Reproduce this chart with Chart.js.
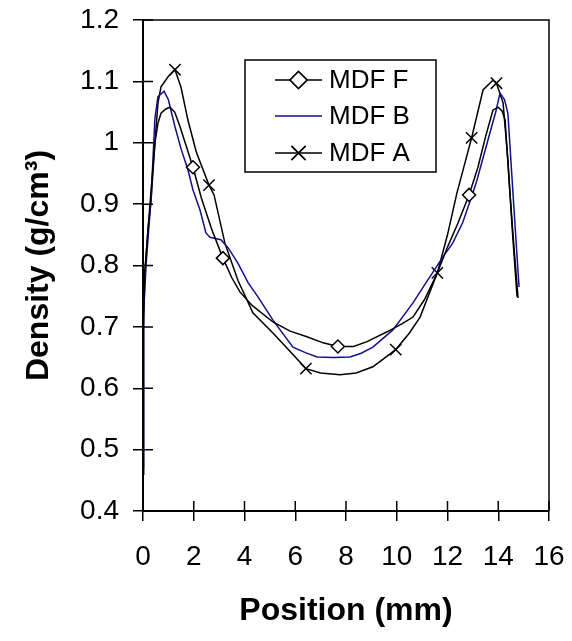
<!DOCTYPE html>
<html><head><meta charset="utf-8">
<script src="https://cdn.jsdelivr.net/npm/chart.js@4/dist/chart.umd.min.js"></script>
<style>html,body{margin:0;padding:0;background:#fff;}#wrap{width:572px;height:641px;}</style>
</head><body><div id="wrap"><canvas id="c" width="572" height="641"></canvas></div>
<script>
const seriesNames = ['MDF F', 'MDF B', 'MDF A'];

const mdfF_x = [0, 0.02, 0.07, 0.2, 0.32, 0.47, 0.59, 0.71, 0.9, 1.06, 1.25, 1.46, 1.7, 1.97, 2.3, 2.7, 3.15, 3.5, 3.82, 4.3, 5.12, 5.8, 6.46, 7.1, 7.68, 8.3, 8.83, 9.62, 10.2, 10.64, 11.1, 11.6, 12.0, 12.4, 12.85, 13.2, 13.5, 13.79, 13.99, 14.15, 14.27, 14.46, 14.62, 14.78];
const mdfF_y = [0.46, 0.72, 0.788, 0.86, 0.923, 1.0, 1.032, 1.048, 1.055, 1.058, 1.05, 1.026, 0.995, 0.96, 0.91, 0.86, 0.812, 0.78, 0.757, 0.735, 0.708, 0.693, 0.684, 0.674, 0.668, 0.668, 0.676, 0.692, 0.705, 0.716, 0.745, 0.788, 0.83, 0.868, 0.915, 0.96, 1.01, 1.053, 1.058, 1.052, 1.037, 0.918, 0.83, 0.747];
const mdfF_markX = [1.97, 3.15, 7.68, 12.85];

const mdfB_x = [0, 0.02, 0.12, 0.2, 0.32, 0.4, 0.47, 0.59, 0.83, 1.0, 1.26, 1.5, 1.77, 1.97, 2.25, 2.48, 2.64, 3.07, 3.35, 3.74, 4.14, 4.53, 5.12, 5.91, 6.4, 6.86, 7.5, 8.16, 8.6, 9.06, 9.85, 10.64, 11.2, 11.82, 12.2, 12.6, 13.0, 13.16, 13.67, 13.9, 14.07, 14.25, 14.38, 14.58, 14.82];
const mdfB_y = [0.47, 0.72, 0.80, 0.845, 0.91, 0.98, 1.04, 1.075, 1.084, 1.07, 1.026, 0.99, 0.956, 0.923, 0.89, 0.853, 0.846, 0.842, 0.829, 0.804, 0.772, 0.749, 0.711, 0.667, 0.658, 0.651, 0.650, 0.651, 0.657, 0.667, 0.695, 0.739, 0.775, 0.814, 0.836, 0.87, 0.918, 0.939, 1.016, 1.05, 1.081, 1.07, 1.048, 0.918, 0.765];

const mdfA_x = [0, 0.02, 0.07, 0.2, 0.32, 0.47, 0.59, 0.71, 0.98, 1.26, 1.5, 1.77, 2.1, 2.6, 2.8, 3.23, 3.74, 4.33, 5.12, 5.8, 6.42, 7.0, 7.76, 8.4, 9.06, 9.96, 10.5, 10.92, 11.6, 12.0, 12.37, 12.95, 13.4, 13.79, 13.93, 14.19, 14.38, 14.55, 14.74];
const mdfA_y = [0.46, 0.70, 0.785, 0.86, 0.907, 1.0, 1.065, 1.091, 1.107, 1.119, 1.09, 1.037, 0.985, 0.931, 0.915, 0.836, 0.776, 0.723, 0.69, 0.66, 0.632, 0.625, 0.622, 0.625, 0.635, 0.663, 0.69, 0.716, 0.788, 0.85, 0.918, 1.008, 1.086, 1.102, 1.097, 1.065, 0.972, 0.86, 0.749];
const mdfA_markX = [1.26, 2.6, 6.42, 9.96, 11.6, 12.95, 13.93];

const xTickValues = [0, 2, 4, 6, 8, 10, 12, 14, 16];
const yTickLabels = ['0.4', '0.5', '0.6', '0.7', '0.8', '0.9', '1', '1.1', '1.2'];

const FONT = "'Liberation Sans', Arial, sans-serif";

function pts(xs, ys) { return xs.map((x, i) => ({ x: x, y: ys[i] })); }
function markRadius(marks, r) {
  return ctx => (ctx.raw && marks.includes(ctx.raw.x)) ? r : 0;
}

const datasets = [
  { label: seriesNames[0], data: pts(mdfF_x, mdfF_y), borderColor: '#000', borderWidth: 1.5,
    pointStyle: 'rectRot', pointRadius: markRadius(mdfF_markX, 6.5), pointBorderColor: '#000',
    pointBackgroundColor: '#fff', pointBorderWidth: 1.5, legendRadius: 8.5 },
  { label: seriesNames[1], data: pts(mdfB_x, mdfB_y), borderColor: '#10108f', borderWidth: 1.5,
    pointRadius: 0, pointStyle: false, legendRadius: 0 },
  { label: seriesNames[2], data: pts(mdfA_x, mdfA_y), borderColor: '#000', borderWidth: 1.5,
    pointStyle: 'crossRot', pointRadius: markRadius(mdfA_markX, 8), pointBorderColor: '#000',
    pointBorderWidth: 1.5, legendRadius: 10 }
];

const framePlugin = {
  id: 'frame',
  afterDraw(chart) {
    const { ctx, chartArea: a, scales } = chart;
    ctx.save();
    ctx.strokeStyle = '#000';
    ctx.lineWidth = 1.5;
    ctx.beginPath();
    ctx.moveTo(a.left, a.top); ctx.lineTo(a.right, a.top); ctx.lineTo(a.right, a.bottom);
    ctx.stroke();
    ctx.beginPath();
    scales.x.ticks.forEach(t => {
      const px = scales.x.getPixelForValue(t.value);
      ctx.moveTo(px, a.bottom); ctx.lineTo(px, a.bottom - 10);
    });
    scales.y.ticks.forEach(t => {
      const py = scales.y.getPixelForValue(t.value);
      ctx.moveTo(a.left, py); ctx.lineTo(a.left + 10, py);
    });
    ctx.stroke();
    ctx.restore();
  },
  afterDatasetsDraw(chart) {
    const { ctx } = chart;
    const bx = 245, by = 60, bw = 191, bh = 112;
    ctx.save();
    ctx.fillStyle = '#fff';
    ctx.fillRect(bx, by, bw, bh);
    ctx.strokeStyle = '#000';
    ctx.lineWidth = 1.5;
    ctx.strokeRect(bx, by, bw, bh);
    const rows = [80, 116, 153];
    chart.data.datasets.forEach((ds, i) => {
      const y = rows[i];
      ctx.strokeStyle = ds.borderColor;
      ctx.lineWidth = 1.5;
      ctx.beginPath(); ctx.moveTo(275, y); ctx.lineTo(322, y); ctx.stroke();
      if (ds.legendRadius) {
        Chart.helpers.drawPoint(ctx, {
          pointStyle: ds.pointStyle, radius: ds.legendRadius, rotation: 0,
          borderWidth: 1.5
        }, 298.5, y);
        ctx.fillStyle = ds.pointBackgroundColor || '#fff';
        ctx.strokeStyle = '#000';
        ctx.lineWidth = 1.5;
        if (ds.pointStyle === 'rectRot') { ctx.fill(); }
        ctx.stroke();
      }
      ctx.fillStyle = '#000';
      ctx.font = '26px ' + FONT;
      ctx.textBaseline = 'middle';
      ctx.textAlign = 'left';
      ctx.fillText(ds.label, 329, y + 1);
    });
    ctx.restore();
  }
};

new Chart(document.getElementById('c'), {
  type: 'scatter',
  data: { datasets: datasets.map(d => Object.assign({ showLine: true, tension: 0, fill: false }, d)) },
  options: {
    responsive: false,
    animation: false,
    layout: { padding: { top: 20, right: 23, left: 0, bottom: 0 } },
    plugins: { legend: { display: false }, tooltip: { enabled: false } },
    scales: {
      x: {
        type: 'linear', min: 0, max: 16,
        afterFit: s => { s.height = 130; s.paddingLeft = 0; s.paddingRight = 0; },
        afterBuildTicks: s => { s.ticks = xTickValues.map(v => ({ value: v })); },
        ticks: { font: { family: FONT, size: 28 }, color: '#000', padding: 19, maxRotation: 0 },
        grid: { drawOnChartArea: false, drawTicks: true, tickLength: 10, color: '#000', lineWidth: 1.5 },
        border: { color: '#000', width: 2 },
        title: { display: true, text: 'Position (mm)', color: '#000',
          font: { family: FONT, size: 32, weight: 'bold' }, padding: { top: 0, bottom: 11 } }
      },
      y: {
        type: 'linear', min: 0.4, max: 1.2,
        afterFit: s => { s.width = 143; s.paddingTop = 0; s.paddingBottom = 0; },
        afterBuildTicks: s => { s.ticks = yTickLabels.map(l => ({ value: parseFloat(l) })); },
        ticks: { font: { family: FONT, size: 28 }, color: '#000', padding: 14,
          callback: (v, i) => yTickLabels[i] },
        grid: { drawOnChartArea: false, drawTicks: true, tickLength: 10, color: '#000', lineWidth: 1.5 },
        border: { color: '#000', width: 2 },
        title: { display: true, text: 'Density (g/cm³)', color: '#000',
          font: { family: FONT, size: 32, weight: 'bold' }, padding: { top: 20, bottom: 0 } }
      }
    }
  },
  plugins: [framePlugin]
});
</script></body></html>
